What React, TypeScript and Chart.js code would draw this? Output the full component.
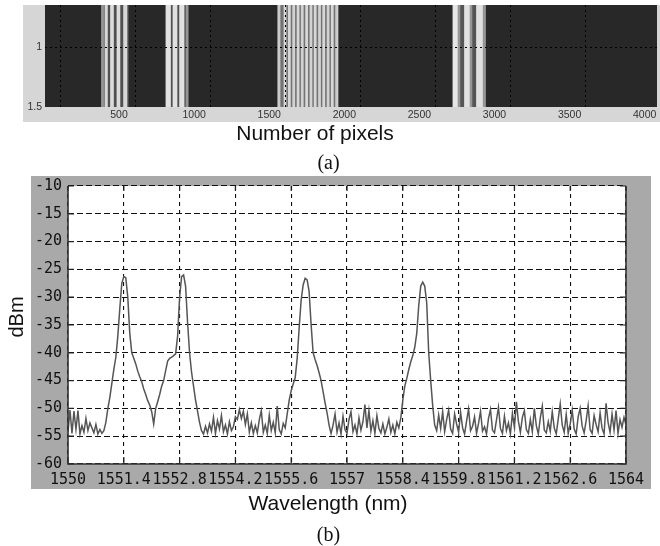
import React, { useEffect, useRef } from "react";
import { Chart, registerables } from "chart.js";

Chart.register(...registerables);

// ---------- Panel (a): stripe image along the pixel axis ----------
const PIXEL_MIN = 7;
const PIXEL_MAX = 4082;
const PIXEL_TICKS = [500, 1000, 1500, 2000, 2500, 3000, 3500, 4000];
const GRID_SHIFT = 107;
const GRID_TICKS = [0, 500, 1000, 1500, 2000, 2500, 3000, 3500];
const ROW_MIN = 0.65;
const ROW_MAX = 1.5;
const ROW_TICKS = [1, 1.5];

// stripes (pixel start, pixel end, grey level 0-255)
const stripeStart = [
  383, 383, 406, 443, 486, 530,
  809, 813, 859, 903, 946,
  1556, 1558, 1598, 1627, 1656, 1685, 1713, 1742, 1771, 1799, 1828, 1856, 1885, 1913, 1942,
  2720, 2724, 2757, 2800, 2837, 2880, 2924,
];
const stripeEnd = [
  563, 397, 423, 463, 506, 553,
  963, 843, 886, 933, 959,
  1961, 1572, 1612, 1641, 1670, 1699, 1727, 1756, 1785, 1813, 1842, 1870, 1899, 1927, 1956,
  2940, 2757, 2770, 2837, 2850, 2924, 2940,
];
const stripeLevel = [
  80, 150, 215, 220, 220, 215,
  80, 225, 225, 225, 150,
  115, 205, 215, 215, 210, 215, 210, 215, 210, 215, 210, 215, 210, 215, 205,
  85, 230, 150, 225, 150, 225, 150,
];

// ---------- Panel (b): optical spectrum ----------
const WL_MIN = 1550;
const WL_MAX = 1564;
const wavelengthTicks = [1550, 1551.4, 1552.8, 1554.2, 1555.6, 1557, 1558.4, 1559.8, 1561.2, 1562.6, 1564];
const DBM_MIN = -60;
const DBM_MAX = -10;
const DBM_STEP = 5;
const SAMPLE_START = 1550;
const SAMPLE_STEP = 0.05;
const powerDbm = [
  -54.2, -50.3, -54.5, -50.5, -53.8, -50.4, -54.6, -53.1, -54.3, -51.8,
  -54.0, -52.6, -53.5, -54.4, -52.9, -54.6, -53.8, -54.5, -54.0, -52.5,
  -50.0, -48.0, -45.5, -43.0, -40.8, -37.0, -32.0, -27.5, -26.3, -26.5,
  -30.0, -36.5, -40.0, -41.0, -42.0, -43.3, -44.3, -45.2, -46.5, -47.5,
  -48.6, -49.4, -50.6, -52.8, -50.0, -48.8, -47.5, -46.0, -45.0, -43.2,
  -41.5, -41.0, -40.8, -40.5, -40.2, -37.0, -30.0, -26.3, -26.0, -28.0,
  -34.5, -40.0, -43.5, -46.0, -48.5, -50.5, -52.5, -54.0, -54.6, -53.2,
  -54.4, -52.8, -54.1, -51.6, -54.5, -52.2, -53.7, -51.3, -54.2, -53.0,
  -54.6, -52.4, -54.0, -53.3, -51.5, -52.0, -50.2, -51.8, -50.5, -52.9,
  -51.0, -54.3, -52.6, -54.5, -53.1, -54.4, -52.0, -50.4, -54.3, -53.0,
  -54.5, -51.2, -54.0, -52.5, -54.4, -49.6, -53.8, -54.6, -52.7, -53.5,
  -51.0, -48.5, -46.8, -45.6, -44.5, -41.0, -35.5, -30.5, -27.8, -26.6,
  -26.9, -29.0, -35.0, -40.0, -41.2, -42.3, -43.6, -45.0, -47.0, -49.0,
  -50.8, -53.0, -54.5, -53.0, -51.0, -54.3, -52.6, -54.6, -51.4, -53.8,
  -54.5, -52.0, -50.6, -54.2, -53.0, -54.6, -51.7, -53.9, -52.4, -49.3,
  -53.5, -50.4, -54.1, -52.2, -54.5, -51.3, -53.6, -54.4, -52.8, -54.6,
  -53.4, -51.9, -54.3, -53.0, -54.6, -52.5, -53.5, -51.7, -48.5, -46.0,
  -44.6, -43.0, -41.6, -40.5, -39.0, -36.5, -31.5, -28.0, -27.3, -28.0,
  -31.0, -40.0, -45.0, -49.5, -53.0, -54.0, -51.2, -53.6, -50.6, -54.2,
  -52.0, -50.3, -53.7, -54.5, -51.0, -52.8, -54.3, -50.7, -53.5, -54.6,
  -52.3, -50.1, -54.0, -53.2, -51.5, -54.5, -52.7, -50.5, -54.1, -53.3,
  -54.6, -51.8, -50.2, -53.9, -54.4, -52.1, -49.8, -53.6, -54.5, -51.4,
  -54.0, -52.6, -54.6, -50.9, -53.4, -48.8, -52.3, -54.3, -51.6, -50.4,
  -53.8, -54.5, -52.0, -54.2, -50.0, -53.1, -54.6, -51.7, -49.6, -53.9,
  -54.4, -52.4, -54.1, -50.6, -53.5, -54.6, -51.9, -49.2, -53.0, -54.3,
  -51.1, -54.5, -52.8, -50.3, -53.7, -54.6, -51.5, -50.0, -53.2, -54.4,
  -52.2, -49.5, -53.8, -54.5, -51.3, -52.9, -54.2, -50.8, -53.6, -54.6,
  -49.1, -52.5, -54.3, -51.0, -53.9, -50.4, -54.5, -52.0, -53.4, -51.6, -53.0,
];

const SANS = '"Liberation Sans", Arial, sans-serif';
const MONO = '"DejaVu Sans Mono", monospace';
const SERIF = '"Liberation Serif", "Times New Roman", serif';

const panelBgA = {
  id: "panelBgA",
  beforeDraw(chart: any) {
    const { ctx, chartArea: a } = chart;
    ctx.save();
    ctx.fillStyle = "#d6d6d6";
    ctx.fillRect(a.left - 22, a.top, a.right - a.left + 25, a.bottom - a.top + 15);
    ctx.fillStyle = "#282828";
    ctx.fillRect(a.left, a.top, a.right - a.left, a.bottom - a.top);
    ctx.restore();
  },
};

const panelBgB = {
  id: "panelBgB",
  beforeDraw(chart: any) {
    const { ctx, chartArea: a } = chart;
    ctx.save();
    ctx.fillStyle = "#a9a9a9";
    ctx.fillRect(a.left - 37, a.top - 10, a.right - a.left + 62, a.bottom - a.top + 35);
    ctx.fillStyle = "#ffffff";
    ctx.fillRect(a.left, a.top, a.right - a.left, a.bottom - a.top);
    ctx.restore();
  },
  afterDraw(chart: any) {
    const { ctx, chartArea: a, scales } = chart;
    ctx.save();
    ctx.strokeStyle = "#222";
    ctx.lineWidth = 1.2;
    ctx.beginPath();
    scales.x.ticks.forEach((t: any) => {
      const px = scales.x.getPixelForValue(t.value);
      ctx.moveTo(px, a.bottom);
      ctx.lineTo(px, a.bottom - 7);
      ctx.moveTo(px, a.top);
      ctx.lineTo(px, a.top + 5);
    });
    scales.y.ticks.forEach((t: any) => {
      const py = scales.y.getPixelForValue(t.value);
      ctx.moveTo(a.left, py);
      ctx.lineTo(a.left + 6, py);
      ctx.moveTo(a.right - 6, py);
      ctx.lineTo(a.right, py);
    });
    ctx.stroke();
    ctx.lineWidth = 1.6;
    ctx.strokeStyle = "#333";
    ctx.beginPath();
    ctx.moveTo(a.left, a.top);
    ctx.lineTo(a.left, a.bottom);
    ctx.lineTo(a.right, a.bottom);
    ctx.lineTo(a.right, a.top);
    ctx.stroke();
    ctx.restore();
  },
};

export default function App() {
  const aRef = useRef<HTMLCanvasElement | null>(null);
  const bRef = useRef<HTMLCanvasElement | null>(null);

  useEffect(() => {
    const chartA = new Chart(aRef.current as HTMLCanvasElement, {
      type: "bar",
      data: {
        datasets: [
          {
            data: stripeStart.map((s, i) => ({ x: [s, stripeEnd[i]], y: "row" })) as any,
            backgroundColor: stripeLevel.map((l) => `rgb(${l},${l},${l})`),
            borderWidth: 0,
            barPercentage: 1,
            categoryPercentage: 1,
            xAxisID: "x",
            yAxisID: "yc",
          } as any,
        ],
      },
      options: {
        indexAxis: "y",
        responsive: false,
        animation: false,
        events: [],
        layout: { padding: { top: 5, right: 3, left: 0, bottom: 0 } },
        plugins: { legend: { display: false }, tooltip: { enabled: false } },
        scales: {
          x: {
            type: "linear",
            position: "bottom",
            min: PIXEL_MIN,
            max: PIXEL_MAX,
            offset: false,
            grid: { display: false, drawTicks: false },
            border: { display: false },
            afterBuildTicks: (s: any) => {
              s.ticks = PIXEL_TICKS.map((v) => ({ value: v }));
            },
            afterFit: (s: any) => {
              s.height = 17;
            },
            ticks: {
              autoSkip: false,
              maxRotation: 0,
              minRotation: 0,
              padding: 2,
              color: "#333",
              font: { family: SANS, size: 10.5 },
              callback: (v: any) => String(v),
            },
          },
          xg: {
            type: "linear",
            position: "bottom",
            min: PIXEL_MIN - GRID_SHIFT,
            max: PIXEL_MAX - GRID_SHIFT,
            offset: false,
            afterBuildTicks: (s: any) => {
              s.ticks = GRID_TICKS.map((v) => ({ value: v }));
            },
            afterFit: (s: any) => {
              s.height = 0;
            },
            ticks: { display: false },
            border: { display: false, dash: [2, 3] },
            grid: { color: "#000", lineWidth: 1, drawTicks: false, offset: false, z: 1 },
          },
          yc: { type: "category", labels: ["row"], display: false, offset: true },
          y: {
            type: "linear",
            position: "left",
            min: ROW_MIN,
            max: ROW_MAX,
            reverse: true,
            offset: false,
            afterBuildTicks: (s: any) => {
              s.ticks = ROW_TICKS.map((v) => ({ value: v }));
            },
            afterFit: (s: any) => {
              s.width = 45;
              s.paddingTop = 0;
              s.paddingBottom = 0;
            },
            ticks: {
              padding: 3,
              color: "#333",
              font: { family: SANS, size: 10.5 },
              callback: (v: any) => String(v),
            },
            grid: {
              color: (c: any) => (c.tick && c.tick.value === 1 ? "#000" : "rgba(0,0,0,0)"),
              lineWidth: 1,
              drawTicks: false,
              offset: false,
              z: 1,
            },
            border: { display: false, dash: [2, 3] },
          },
        } as any,
      },
      plugins: [panelBgA],
    });

    const spectrum = powerDbm.map((p, i) => ({
      x: +(SAMPLE_START + i * SAMPLE_STEP).toFixed(2),
      y: p,
    }));

    const chartB = new Chart(bRef.current as HTMLCanvasElement, {
      type: "line",
      data: {
        datasets: [
          {
            data: spectrum,
            borderColor: "#555555",
            borderWidth: 1.5,
            pointRadius: 0,
            tension: 0,
            fill: false,
          },
        ],
      },
      options: {
        responsive: false,
        animation: false,
        events: [],
        layout: { padding: { top: 16, right: 34, left: 0, bottom: 0 } },
        plugins: { legend: { display: false }, tooltip: { enabled: false } },
        scales: {
          x: {
            type: "linear",
            min: WL_MIN,
            max: WL_MAX,
            afterBuildTicks: (s: any) => {
              s.ticks = wavelengthTicks.map((v) => ({ value: v }));
            },
            afterFit: (s: any) => {
              s.height = 36;
            },
            ticks: {
              autoSkip: false,
              maxRotation: 0,
              minRotation: 0,
              padding: 7,
              color: "#111",
              font: { family: MONO, size: 15 },
              callback: (v: any) => String(v),
            },
            grid: { color: "#111", lineWidth: 1.1, drawTicks: false },
            border: { display: false, dash: [4, 4] },
          },
          y: {
            type: "linear",
            min: DBM_MIN,
            max: DBM_MAX,
            afterFit: (s: any) => {
              s.width = 68;
            },
            ticks: {
              stepSize: DBM_STEP,
              padding: 6,
              color: "#111",
              font: { family: MONO, size: 15 },
              callback: (v: any) => String(v),
            },
            grid: { color: "#111", lineWidth: 1.1, drawTicks: false },
            border: { display: false, dash: [6, 3] },
          },
        } as any,
      },
      plugins: [panelBgB],
    });

    return () => {
      chartA.destroy();
      chartB.destroy();
    };
  }, []);

  return (
    <div
      style={{
        position: "absolute",
        left: 0,
        top: 0,
        width: 660,
        height: 546,
        overflow: "hidden",
        background: "#fff",
      }}
    >
      <canvas ref={aRef} width={660} height={124} style={{ position: "absolute", left: 0, top: 0 }} />
      <div
        style={{
          position: "absolute",
          left: 0,
          top: 122,
          width: 630,
          textAlign: "center",
          font: `21px ${SANS}`,
          lineHeight: "21px",
          color: "#111",
        }}
      >
        Number of pixels
      </div>
      <div
        style={{
          position: "absolute",
          left: 0,
          top: 152,
          width: 657,
          textAlign: "center",
          font: `20px ${SERIF}`,
          lineHeight: "20px",
          color: "#111",
        }}
      >
        (a)
      </div>
      <canvas ref={bRef} width={660} height={330} style={{ position: "absolute", left: 0, top: 170 }} />
      <div
        style={{
          position: "absolute",
          left: -33,
          top: 305,
          width: 100,
          height: 24,
          lineHeight: "24px",
          textAlign: "center",
          font: `20px ${SANS}`,
          color: "#111",
          transform: "rotate(-90deg)",
        }}
      >
        dBm
      </div>
      <div
        style={{
          position: "absolute",
          left: 0,
          top: 492,
          width: 656,
          textAlign: "center",
          font: `21px ${SANS}`,
          lineHeight: "21px",
          color: "#111",
        }}
      >
        Wavelength (nm)
      </div>
      <div
        style={{
          position: "absolute",
          left: 0,
          top: 524,
          width: 657,
          textAlign: "center",
          font: `20px ${SERIF}`,
          lineHeight: "20px",
          color: "#111",
        }}
      >
        (b)
      </div>
    </div>
  );
}
